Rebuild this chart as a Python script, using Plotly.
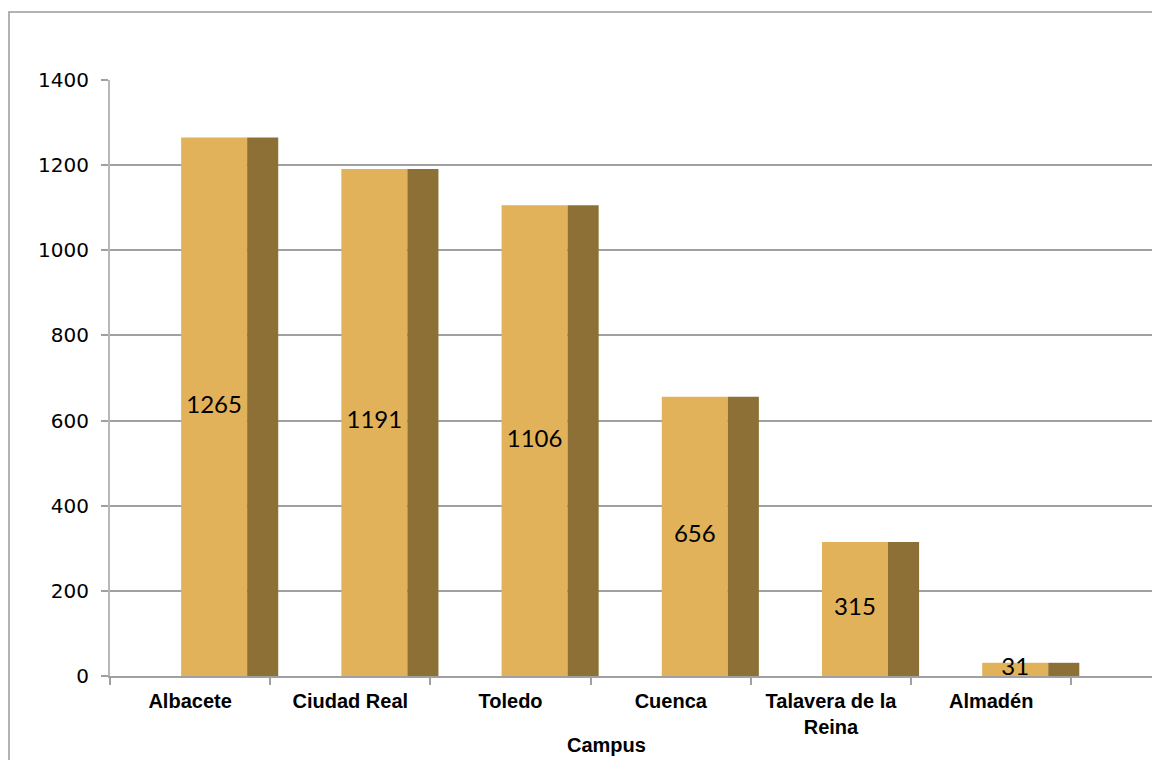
import plotly.graph_objects as go

categories = ["Albacete", "Ciudad Real", "Toledo", "Cuenca", "Talavera de la<br>Reina", "Almadén"]
values = [1265, 1191, 1106, 656, 315, 31]
y_ticks = [0, 200, 400, 600, 800, 1000, 1200, 1400]

x = list(range(len(categories)))
front_color = "#E2B25A"
side_color = "#8C7036"
grid_color = "#A0A0A0"

# page body has an 8px margin; plot area on screen: x 110..1153, y 80..676
OFF = 8
L, R, T, B = 110, 1153, 80, 676
W, H = 1160 - OFF, 760 - OFF

def px(xs):
    return (xs - L) / (R - L)

def py(ys):
    return (B - ys) / (B - T)

fig = go.Figure()
fig.add_trace(go.Bar(x=x, y=values, width=0.412, offset=-0.056,
                     marker=dict(color=front_color, line=dict(width=0)),
                     hoverinfo="skip", showlegend=False))
fig.add_trace(go.Bar(x=x, y=values, width=0.194, offset=0.356,
                     marker=dict(color=side_color, line=dict(width=0)),
                     hoverinfo="skip", showlegend=False))
fig.add_trace(go.Scatter(x=[i + 0.15 for i in x], y=[v / 2 for v in values],
                         mode="text", text=[str(v) for v in values],
                         textfont=dict(family="Lato", size=24, color="black"),
                         hoverinfo="skip", showlegend=False))

fig.update_layout(
    width=W, height=H,
    margin=dict(l=L - OFF, r=W - (R - OFF), t=T - OFF, b=H - (B - OFF), pad=0),
    paper_bgcolor="white", plot_bgcolor="white",
    barmode="overlay",
    xaxis=dict(range=[-0.5, 6.01], tickvals=x, ticktext=[f"<b>{c}</b>" for c in categories],
               ticks="", showgrid=False, zeroline=False,
               showline=True, linecolor=grid_color, linewidth=2,
               tickfont=dict(family="Liberation Sans", size=20, color="black"),
               ticklabelstandoff=6,
               minor=dict(tickvals=[i - 0.5 for i in range(len(categories) + 1)],
                          ticks="outside", ticklen=7, tickcolor=grid_color, tickwidth=2)),
    yaxis=dict(range=[0, 1400], tickvals=y_ticks, ticks="outside", ticklen=7,
               tickcolor=grid_color, tickwidth=2,
               showgrid=True, gridcolor=grid_color, gridwidth=2,
               zeroline=False, showline=True, linecolor="#B8B8B8", linewidth=2,
               tickfont=dict(family="DejaVu Sans", size=20, color="black"),
               ticklabelstandoff=8),
    annotations=[dict(text="<b>Campus</b>", xref="paper", yref="paper",
                      x=px(606), y=py(745),
                      xanchor="center", yanchor="middle", showarrow=False,
                      font=dict(family="Liberation Sans", size=20, color="black"))],
    shapes=[dict(type="rect", xref="paper", yref="paper",
                 x0=px(9), x1=px(1175), y0=py(790), y1=py(12),
                 line=dict(color="#9A9A9A", width=1.5), layer="below")],
)

fig.write_html("out.html")
